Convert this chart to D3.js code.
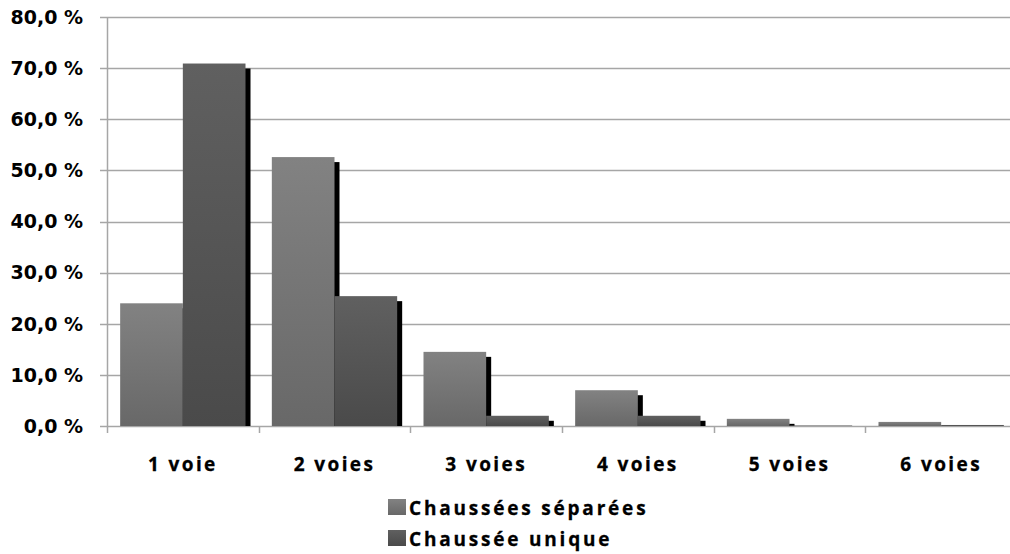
<!DOCTYPE html>
<html>
<head>
<meta charset="utf-8">
<script src="https://cdn.jsdelivr.net/npm/d3@7"></script>
<style>
  body { margin: 0; background: #fff; }
  svg { display: block; }
</style>
</head>
<body>
<div id="chart"></div>
<script>
// data
var categories = ['1 voie', '2 voies', '3 voies', '4 voies', '5 voies', '6 voies'];
var seriesNames = ['Chaussées séparées', 'Chaussée unique'];
var separees = [24.0, 52.6, 14.5, 7.0, 1.4, 0.8];
var unique = [70.9, 25.4, 2.0, 2.0, 0.1, 0.2];
var yTicks = [0, 10, 20, 30, 40, 50, 60, 70, 80];

var width = 1010, height = 554;
var margin = { top: 17, left: 107, right: -7, bottom: 128 };
var innerW = width - margin.left - margin.right;
var innerH = height - margin.top - margin.bottom;

var svg = d3.select('#chart').append('svg')
    .attr('width', width)
    .attr('height', height);

var defs = svg.append('defs');
function grad(id, top, bottom) {
    var gr = defs.append('linearGradient').attr('id', id)
        .attr('x1', 0).attr('y1', 0).attr('x2', 0).attr('y2', 1);
    gr.append('stop').attr('offset', '0%').attr('stop-color', top);
    gr.append('stop').attr('offset', '100%').attr('stop-color', bottom);
}
grad('g0', '#828282', '#686868');
grad('g1', '#606060', '#4a4a4a');
var fills = ['url(#g0)', 'url(#g1)'];

var g = svg.append('g')
    .attr('transform', 'translate(' + margin.left + ',' + margin.top + ')');

var x = d3.scaleBand().domain(categories).range([0, innerW]).paddingInner(0).paddingOuter(0);
var xs = d3.scaleBand().domain([0, 1]).range([0, x.bandwidth()]).paddingOuter(0.21).paddingInner(0);
var y = d3.scaleLinear().domain([0, 80]).range([innerH, 0]);

// gridlines
g.append('g').selectAll('line').data(yTicks).enter().append('line')
    .attr('x1', -7).attr('x2', innerW)
    .attr('y1', function (d) { return Math.round(y(d)) + 0.5; })
    .attr('y2', function (d) { return Math.round(y(d)) + 0.5; })
    .attr('stroke', '#a6a6a6').attr('stroke-width', 1.5);

// y axis line
g.append('line').attr('x1', 0.5).attr('x2', 0.5).attr('y1', 0).attr('y2', innerH)
    .attr('stroke', '#a6a6a6').attr('stroke-width', 1.5);

// x ticks
g.append('g').selectAll('line').data(categories.concat(['end'])).enter().append('line')
    .attr('x1', function (d, i) { return Math.round(i * x.step()) + 0.5; })
    .attr('x2', function (d, i) { return Math.round(i * x.step()) + 0.5; })
    .attr('y1', innerH).attr('y2', innerH + 7)
    .attr('stroke', '#a6a6a6').attr('stroke-width', 1.5);

// y labels
g.append('g').selectAll('text').data(yTicks).enter().append('text')
    .attr('x', -24)
    .attr('y', function (d) { return y(d); })
    .attr('dy', '0.36em')
    .attr('text-anchor', 'end')
    .attr('font-family', 'DejaVu Sans')
    .attr('font-weight', 'bold')
    .attr('font-size', 19)
    .attr('fill', '#000')
    .text(function (d) { return d.toFixed(1).replace('.', ',') + ' %'; });

// bars
var data = [separees, unique];
var groups = g.append('g').selectAll('g').data(categories).enter().append('g')
    .attr('transform', function (d) { return 'translate(' + x(d) + ',0)'; });

groups.each(function (cat, ci) {
    var grp = d3.select(this);
    [0, 1].forEach(function (si) {
        var v = data[si][ci];
        var bx = xs(si), bw = xs.bandwidth(), by = y(v);
        // shadow
        grp.append('rect')
            .attr('x', bx + 5).attr('y', Math.min(by + 5, innerH))
            .attr('width', bw).attr('height', Math.max(0, innerH - by - 5))
            .attr('fill', '#000');
    });
    [0, 1].forEach(function (si) {
        var v = data[si][ci];
        grp.append('rect')
            .attr('x', xs(si)).attr('y', y(v))
            .attr('width', xs.bandwidth()).attr('height', innerH - y(v))
            .attr('fill', fills[si]);
    });
});

// x labels
g.append('g').selectAll('text').data(categories).enter().append('text')
    .attr('x', function (d) { return x(d) + x.bandwidth() / 2; })
    .attr('y', innerH + 45)
    .attr('text-anchor', 'middle')
    .attr('font-family', 'Open Sans')
    .attr('font-weight', 'bold')
    .attr('font-size', 19)
    .attr('letter-spacing', 2.4)
    .attr('stroke', '#000').attr('stroke-width', 0.3)
    .attr('fill', '#000')
    .text(function (d) { return d; });

// legend
var legend = svg.append('g').attr('transform', 'translate(388,499)');
seriesNames.forEach(function (name, i) {
    var row = legend.append('g').attr('transform', 'translate(0,' + (i * 31) + ')');
    row.append('rect').attr('width', 18).attr('height', 16).attr('fill', fills[i]);
    row.append('text').attr('x', 21).attr('y', 16)
        .attr('font-family', 'Open Sans')
        .attr('font-weight', 'bold')
        .attr('font-size', 19)
        .attr('letter-spacing', 2.8)
        .attr('stroke', '#000').attr('stroke-width', 0.3)
        .attr('fill', '#000')
        .text(name);
});
</script>
</body>
</html>
